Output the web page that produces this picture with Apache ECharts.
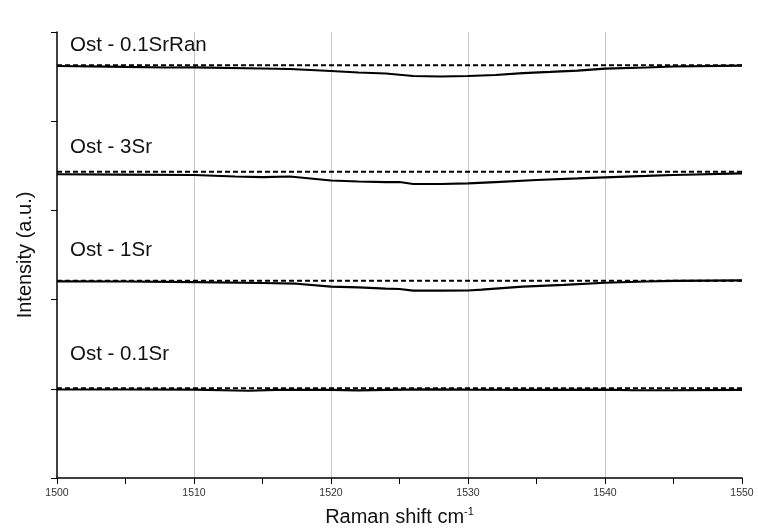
<!DOCTYPE html>
<html>
<head>
<meta charset="utf-8">
<script src="https://cdn.jsdelivr.net/npm/echarts@6/dist/echarts.min.js"></script>
<style>
  html, body { margin: 0; padding: 0; background: #ffffff; }
  #chart { width: 758px; height: 529px; }
</style>
</head>
<body>
<div id="chart"></div>
<script>
// Raman spectra (offset traces), 1500–1550 cm-1 window
const sampleNames = ['Ost - 0.1SrRan', 'Ost - 3Sr', 'Ost - 1Sr', 'Ost - 0.1Sr'];

// measured spectra: wavenumber / intensity pairs
const shiftRan01 = [1500, 1505, 1508, 1510, 1515, 1517, 1520, 1522, 1524, 1526, 1528, 1530, 1532, 1534, 1536, 1538, 1540, 1543, 1545, 1550];
const intensityRan01 = [4.619, 4.608, 4.602, 4.604, 4.591, 4.585, 4.563, 4.546, 4.535, 4.507, 4.501, 4.507, 4.518, 4.540, 4.552, 4.568, 4.589, 4.602, 4.613, 4.624];

const shiftSr3 = [1500, 1505, 1510, 1513, 1515, 1517, 1520, 1522, 1524, 1525, 1526, 1528, 1530, 1532, 1535, 1538, 1540, 1543, 1545, 1550];
const intensitySr3 = [3.405, 3.400, 3.397, 3.380, 3.374, 3.380, 3.335, 3.324, 3.318, 3.318, 3.296, 3.296, 3.302, 3.318, 3.341, 3.358, 3.371, 3.386, 3.397, 3.416];

const shiftSr1 = [1500, 1505, 1510, 1515, 1517.5, 1520, 1522, 1524, 1525, 1526, 1528, 1530, 1531, 1534, 1537, 1540, 1543, 1545, 1550];
const intensitySr1 = [2.205, 2.203, 2.197, 2.186, 2.178, 2.145, 2.136, 2.124, 2.119, 2.100, 2.100, 2.102, 2.111, 2.145, 2.164, 2.189, 2.203, 2.209, 2.216];

const shiftSr01 = [1500, 1505, 1510, 1513, 1514, 1516, 1520, 1522, 1524, 1527, 1530, 1535, 1540, 1542, 1545, 1550];
const intensitySr01 = [0.992, 0.992, 0.990, 0.981, 0.978, 0.987, 0.987, 0.983, 0.989, 0.994, 0.991, 0.989, 0.990, 0.984, 0.984, 0.987];

// reference (baseline) levels drawn dashed
const referenceShift = [1500, 1550];
const referenceLevels = [4.627, 3.434, 2.212, 1.006];

const xTicks = { min: 1500, max: 1550, step: 10 };
const yRange = { min: 0, max: 5, step: 1 };

const pair = (xs, ys) => xs.map((x, i) => [x, ys[i]]);
const measured = [
  pair(shiftRan01, intensityRan01),
  pair(shiftSr3, intensitySr3),
  pair(shiftSr1, intensitySr1),
  pair(shiftSr01, intensitySr01)
];

const FONT = '"Liberation Sans", Arial, sans-serif';

const series = [];
measured.forEach((data, i) => {
  series.push({
    name: sampleNames[i],
    type: 'line',
    data: data,
    showSymbol: false,
    smooth: false,
    lineStyle: { color: '#000000', width: 2.2 },
    z: 2
  });
});
referenceLevels.forEach((lvl, i) => {
  series.push({
    name: sampleNames[i] + ' ref',
    type: 'line',
    data: referenceShift.map(x => [x, lvl]),
    showSymbol: false,
    lineStyle: { color: '#000000', width: 2, type: [5, 3] },
    z: 3
  });
});

// sample captions placed above each trace
const captionTops = [45, 147, 250, 354];
const graphics = sampleNames.map((name, i) => ({
  type: 'text',
  left: 70,
  top: captionTops[i] - 10,
  style: { text: name, font: '20.5px ' + FONT, fill: '#111111' },
  z: 10
}));

const chart = echarts.init(document.getElementById('chart'), null, { renderer: 'canvas' });
chart.setOption({
  backgroundColor: '#ffffff',
  animation: false,
  grid: { left: 57, right: 16, top: 32, bottom: 51, containLabel: false, outerBoundsMode: 'none' },
  xAxis: {
    type: 'value',
    min: xTicks.min,
    max: xTicks.max,
    interval: xTicks.step,
    name: 'Raman shift cm{sup|-1}',
    nameLocation: 'middle',
    nameGap: 28,
    nameTextStyle: {
      fontFamily: FONT, fontSize: 20, color: '#111111',
      rich: { sup: { fontFamily: FONT, fontSize: 11, color: '#111111', verticalAlign: 'top', padding: [0, 0, 12, 0] } }
    },
    axisLine: { show: true, onZero: false, lineStyle: { color: '#000000', width: 1.5 } },
    axisTick: { show: true, inside: false, length: 6, lineStyle: { color: '#000000', width: 1 } },
    minorTick: { show: true, splitNumber: 2, length: 6, lineStyle: { color: '#000000', width: 1 } },
    axisLabel: { fontFamily: FONT, fontSize: 10.5, color: '#333333', margin: 10, formatter: v => String(v) },
    splitLine: { show: true, showMinLine: false, showMaxLine: false, lineStyle: { color: '#c8c8c8', width: 1 } }
  },
  yAxis: {
    type: 'value',
    min: yRange.min,
    max: yRange.max,
    interval: yRange.step,
    name: 'Intensity (a.u.)',
    nameLocation: 'middle',
    nameGap: 22,
    nameTextStyle: { fontFamily: FONT, fontSize: 20, color: '#111111' },
    axisLine: { show: true, onZero: false, lineStyle: { color: '#000000', width: 1.5 } },
    axisTick: { show: true, inside: false, length: 6, lineStyle: { color: '#000000', width: 1 } },
    axisLabel: { show: false },
    splitLine: { show: false }
  },
  series: series,
  graphic: graphics
});
</script>
</body>
</html>
